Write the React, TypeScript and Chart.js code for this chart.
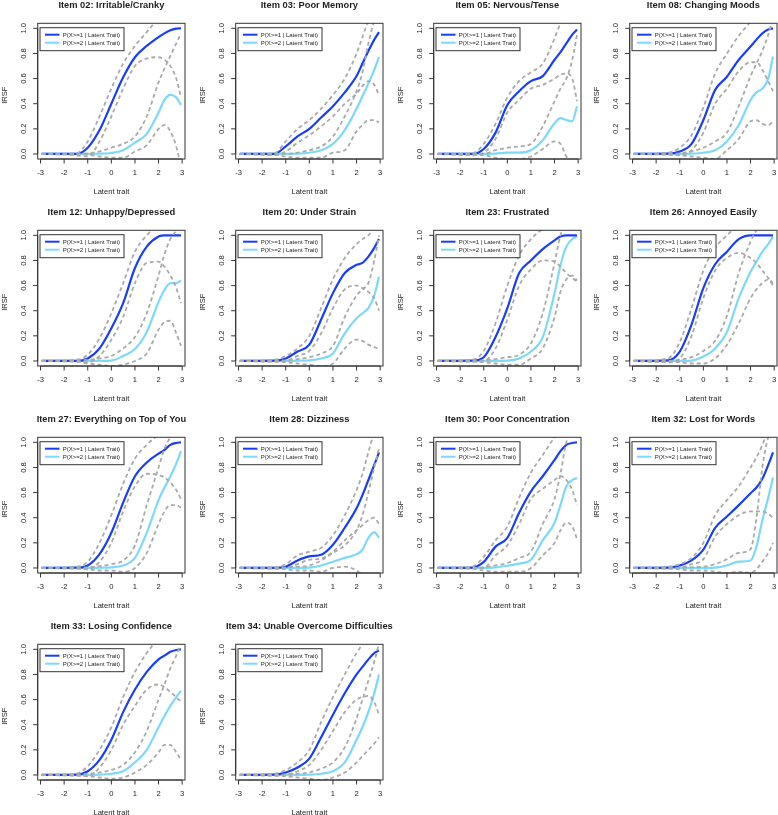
import React, { useEffect, useRef } from "react";
import { Chart, registerables } from "chart.js";

Chart.register(...registerables);

// ---------- shared axes ----------
const xGrid = [-2.95, -1.5, -1, -0.5, 0, 0.5, 1, 1.5, 2, 2.25, 2.5, 2.75, 2.95];
const xTicks = [-3, -2, -1, 0, 1, 2, 3];
const xTickLabels = ["-3", "-2", "-1", "0", "1", "2", "3"];
const yTicks = [0, 0.2, 0.4, 0.6, 0.8, 1.0];
const yTickLabels = ["0.0", "0.2", "0.4", "0.6", "0.8", "1.0"];
const legendLabels = ["P(X>=1 | Latent Trait)", "P(X>=2 | Latent Trait)"];
const xAxisTitle = "Latent trait";
const yAxisTitle = "IRSF";

// ---------- item titles ----------
const titles = [
  "Item 02: Irritable/Cranky",
  "Item 03: Poor Memory",
  "Item 05: Nervous/Tense",
  "Item 08: Changing Moods",
  "Item 12: Unhappy/Depressed",
  "Item 20: Under Strain",
  "Item 23: Frustrated",
  "Item 26: Annoyed Easily",
  "Item 27: Everything on Top of You",
  "Item 28: Dizziness",
  "Item 30: Poor Concentration",
  "Item 32: Lost for Words",
  "Item 33: Losing Confidence",
  "Item 34: Unable Overcome Difficulties",
];

// ---------- series (values at xGrid) ----------
const item02_p1 = [0, 0, 0.05, 0.19, 0.4, 0.61, 0.77, 0.86, 0.93, 0.96, 0.985, 0.997, 1.0];
const item02_p2 = [0, 0, 0, 0.002, 0.008, 0.03, 0.09, 0.16, 0.33, 0.43, 0.47, 0.45, 0.39];
const item02_p1Hi = [0, 0.005, 0.1, 0.3, 0.52, 0.72, 0.86, 0.97, 1.08, 1.12, 1.15, 1.16, 1.16];
const item02_p1Lo = [0, -0.01, -0.02, 0.1, 0.3, 0.52, 0.7, 0.76, 0.77, 0.75, 0.7, 0.6, 0.45];
const item02_p2Hi = [0, 0, 0.005, 0.02, 0.05, 0.08, 0.14, 0.3, 0.57, 0.68, 0.78, 0.88, 0.96];
const item02_p2Lo = [0, 0, -0.005, -0.02, -0.03, -0.03, 0.02, 0.07, 0.2, 0.23, 0.18, 0.06, -0.1];

const item03_p1 = [0, 0, 0.06, 0.14, 0.2, 0.29, 0.38, 0.49, 0.62, 0.72, 0.82, 0.91, 0.97];
const item03_p2 = [0, 0, 0, 0.002, 0.01, 0.03, 0.08, 0.19, 0.36, 0.46, 0.56, 0.67, 0.77];
const item03_p1Hi = [0, 0.005, 0.1, 0.2, 0.27, 0.36, 0.47, 0.6, 0.8, 0.93, 1.06, 1.12, 1.15];
const item03_p1Lo = [0, -0.01, 0.02, 0.09, 0.15, 0.22, 0.3, 0.4, 0.48, 0.54, 0.58, 0.55, 0.47];
const item03_p2Hi = [0, 0, 0, 0.01, 0.03, 0.06, 0.14, 0.3, 0.5, 0.65, 0.88, 1.06, 1.15];
const item03_p2Lo = [0, -0.005, -0.02, -0.03, -0.03, -0.03, 0.01, 0.03, 0.18, 0.23, 0.27, 0.27, 0.25];

const item05_p1 = [0, 0, 0.04, 0.17, 0.39, 0.5, 0.58, 0.62, 0.75, 0.81, 0.88, 0.95, 0.99];
const item05_p2 = [0, 0, 0, 0.003, 0.01, 0.01, 0.03, 0.11, 0.245, 0.285, 0.27, 0.26, 0.38];
const item05_p1Hi = [0, 0.005, 0.08, 0.24, 0.45, 0.58, 0.65, 0.72, 0.92, 1.04, 1.12, 1.15, 1.15];
const item05_p1Lo = [0, -0.01, 0.01, 0.12, 0.33, 0.43, 0.52, 0.55, 0.6, 0.63, 0.64, 0.6, 0.42];
const item05_p2Hi = [0, 0, 0, 0.03, 0.05, 0.06, 0.08, 0.22, 0.42, 0.52, 0.6, 0.75, 0.95];
const item05_p2Lo = [0, -0.005, -0.01, -0.03, -0.04, -0.04, -0.02, 0.04, 0.1, 0.08, -0.02, -0.1, -0.2];

const item08_p1 = [0, 0.002, 0.02, 0.08, 0.27, 0.51, 0.615, 0.75, 0.855, 0.91, 0.96, 0.99, 1.0];
const item08_p2 = [0, 0, 0, 0.002, 0.01, 0.03, 0.1, 0.23, 0.43, 0.49, 0.52, 0.6, 0.775];
const item08_p1Hi = [0, 0.01, 0.05, 0.15, 0.37, 0.64, 0.8, 0.94, 1.05, 1.1, 1.12, 1.12, 1.12];
const item08_p1Lo = [0, -0.005, -0.01, 0.03, 0.17, 0.4, 0.52, 0.66, 0.73, 0.73, 0.67, 0.58, 0.5];
const item08_p2Hi = [0, 0, 0.005, 0.02, 0.05, 0.1, 0.17, 0.38, 0.62, 0.72, 0.82, 0.95, 1.08];
const item08_p2Lo = [0, -0.005, -0.01, -0.02, -0.03, -0.04, 0.03, 0.12, 0.26, 0.27, 0.24, 0.23, 0.26];

const item12_p1 = [0, 0, 0.02, 0.1, 0.26, 0.46, 0.74, 0.91, 0.99, 1.0, 1.0, 1.0, 1.0];
const item12_p2 = [0, 0, 0, 0.001, 0.003, 0.04, 0.095, 0.23, 0.47, 0.565, 0.62, 0.62, 0.64];
const item12_p1Hi = [0, 0.01, 0.05, 0.18, 0.38, 0.62, 0.87, 1.0, 1.08, 1.1, 1.1, 1.1, 1.1];
const item12_p1Lo = [0, -0.005, -0.01, 0.04, 0.17, 0.35, 0.62, 0.78, 0.79, 0.75, 0.68, 0.58, 0.46];
const item12_p2Hi = [0, 0, 0.01, 0.02, 0.04, 0.1, 0.19, 0.38, 0.68, 0.85, 0.97, 1.04, 1.1];
const item12_p2Lo = [0, -0.005, -0.02, -0.03, -0.04, -0.03, 0.0, 0.06, 0.25, 0.31, 0.32, 0.22, 0.12];

const item20_p1 = [0, 0.002, 0.02, 0.075, 0.13, 0.33, 0.54, 0.7, 0.765, 0.78, 0.83, 0.9, 0.97];
const item20_p2 = [0, 0, 0, 0.002, 0.005, 0.02, 0.06, 0.22, 0.34, 0.38, 0.42, 0.52, 0.67];
const item20_p1Hi = [0, 0.01, 0.04, 0.1, 0.2, 0.42, 0.65, 0.82, 0.93, 0.97, 1.0, 1.06, 1.1];
const item20_p1Lo = [0, -0.005, 0, 0.04, 0.08, 0.22, 0.42, 0.57, 0.6, 0.58, 0.55, 0.5, 0.4];
const item20_p2Hi = [0, 0, 0.005, 0.015, 0.03, 0.06, 0.12, 0.35, 0.52, 0.57, 0.62, 0.8, 1.0];
const item20_p2Lo = [0, -0.005, -0.01, -0.02, -0.03, -0.04, -0.02, 0.1, 0.17, 0.16, 0.13, 0.11, 0.1];

const item23_p1 = [0, 0.002, 0.03, 0.19, 0.42, 0.7, 0.8, 0.89, 0.96, 0.99, 1.0, 1.0, 1.0];
const item23_p2 = [0, 0, 0, 0.001, 0.003, 0.02, 0.075, 0.19, 0.54, 0.76, 0.91, 0.97, 0.99];
const item23_p1Hi = [0, 0.01, 0.08, 0.3, 0.6, 0.84, 0.97, 1.05, 1.1, 1.1, 1.1, 1.1, 1.1];
const item23_p1Lo = [0, -0.005, 0, 0.1, 0.33, 0.6, 0.73, 0.8, 0.79, 0.75, 0.7, 0.66, 0.63];
const item23_p2Hi = [0, 0, 0.005, 0.015, 0.03, 0.05, 0.14, 0.38, 0.78, 1.0, 1.1, 1.12, 1.12];
const item23_p2Lo = [0, -0.005, -0.01, -0.02, -0.03, -0.03, 0.02, 0.1, 0.35, 0.55, 0.65, 0.68, 0.64];

const item26_p1 = [0, 0.005, 0.075, 0.29, 0.58, 0.77, 0.87, 0.97, 1.0, 1.0, 1.0, 1.0, 1.0];
const item26_p2 = [0, 0, 0, 0.003, 0.035, 0.1, 0.23, 0.5, 0.71, 0.79, 0.87, 0.93, 0.99];
const item26_p1Hi = [0, 0.02, 0.15, 0.42, 0.72, 0.9, 1.0, 1.08, 1.1, 1.1, 1.1, 1.1, 1.1];
const item26_p1Lo = [0, -0.01, 0.02, 0.2, 0.5, 0.72, 0.82, 0.86, 0.82, 0.78, 0.72, 0.66, 0.6];
const item26_p2Hi = [0, 0, 0.01, 0.03, 0.08, 0.16, 0.36, 0.7, 0.95, 1.04, 1.1, 1.1, 1.1];
const item26_p2Lo = [0, -0.005, -0.01, -0.02, -0.02, 0.02, 0.13, 0.3, 0.5, 0.57, 0.62, 0.65, 0.62];

const item27_p1 = [0, 0.002, 0.02, 0.11, 0.28, 0.52, 0.73, 0.84, 0.91, 0.94, 0.98, 0.995, 1.0];
const item27_p2 = [0, 0, 0, 0.002, 0.005, 0.02, 0.08, 0.28, 0.54, 0.64, 0.73, 0.83, 0.93];
const item27_p1Hi = [0, 0.01, 0.05, 0.2, 0.42, 0.67, 0.87, 0.98, 1.06, 1.1, 1.1, 1.1, 1.1];
const item27_p1Lo = [0, -0.005, -0.01, 0.05, 0.2, 0.45, 0.65, 0.75, 0.74, 0.72, 0.68, 0.62, 0.55];
const item27_p2Hi = [0, 0, 0.005, 0.015, 0.03, 0.06, 0.18, 0.5, 0.8, 0.95, 1.04, 1.1, 1.1];
const item27_p2Lo = [0, -0.005, -0.01, -0.02, -0.02, -0.03, 0, 0.12, 0.35, 0.45, 0.5, 0.5, 0.48];

const item28_p1 = [0, 0.001, 0.01, 0.06, 0.092, 0.105, 0.185, 0.32, 0.475, 0.58, 0.7, 0.82, 0.92];
const item28_p2 = [0, 0, 0, 0.001, 0.003, 0.02, 0.05, 0.08, 0.11, 0.145, 0.24, 0.285, 0.24];
const item28_p1Hi = [0, 0.005, 0.03, 0.1, 0.13, 0.16, 0.26, 0.42, 0.62, 0.75, 0.92, 1.08, 1.15];
const item28_p1Lo = [0, -0.005, 0, 0.03, 0.065, 0.075, 0.13, 0.22, 0.3, 0.34, 0.38, 0.4, 0.35];
const item28_p2Hi = [0, 0, 0.005, 0.01, 0.02, 0.06, 0.12, 0.18, 0.3, 0.42, 0.6, 0.8, 0.95];
const item28_p2Lo = [0, -0.005, -0.01, -0.02, -0.02, -0.03, 0, 0.01, -0.02, -0.06, -0.12, -0.2, -0.3];

const item30_p1 = [0, 0.003, 0.048, 0.17, 0.24, 0.44, 0.61, 0.73, 0.86, 0.93, 0.98, 0.995, 1.0];
const item30_p2 = [0, 0, 0, 0.005, 0.018, 0.035, 0.066, 0.22, 0.36, 0.5, 0.65, 0.7, 0.715];
const item30_p1Hi = [0, 0.01, 0.09, 0.22, 0.33, 0.56, 0.76, 0.9, 1.04, 1.1, 1.1, 1.1, 1.1];
const item30_p1Lo = [0, -0.005, 0, 0.1, 0.18, 0.35, 0.55, 0.63, 0.7, 0.73, 0.7, 0.62, 0.5];
const item30_p2Hi = [0, 0, 0.005, 0.02, 0.04, 0.08, 0.13, 0.35, 0.55, 0.75, 1.0, 1.1, 1.1];
const item30_p2Lo = [0, -0.005, -0.02, -0.03, -0.03, -0.03, 0, 0.1, 0.2, 0.3, 0.36, 0.33, 0.23];

const item32_p1 = [0, 0.003, 0.02, 0.06, 0.146, 0.32, 0.41, 0.5, 0.595, 0.64, 0.71, 0.82, 0.92];
const item32_p2 = [0, 0, 0, 0, 0.001, 0.003, 0.02, 0.05, 0.06, 0.17, 0.38, 0.56, 0.72];
const item32_p1Hi = [0, 0.01, 0.03, 0.08, 0.2, 0.42, 0.54, 0.65, 0.8, 0.88, 0.98, 1.1, 1.15];
const item32_p1Lo = [0, -0.005, 0, 0.03, 0.07, 0.25, 0.35, 0.42, 0.45, 0.45, 0.45, 0.43, 0.4];
const item32_p2Hi = [0, 0, 0.002, 0.005, 0.01, 0.03, 0.07, 0.12, 0.15, 0.4, 0.8, 1.04, 1.1];
const item32_p2Lo = [0, -0.005, -0.01, -0.02, -0.02, -0.03, -0.04, -0.03, -0.04, -0.01, 0.05, 0.12, 0.2];

const item33_p1 = [0, 0.003, 0.03, 0.12, 0.28, 0.5, 0.68, 0.82, 0.92, 0.95, 0.98, 0.995, 1.0];
const item33_p2 = [0, 0, 0, 0.002, 0.01, 0.03, 0.1, 0.2, 0.38, 0.47, 0.55, 0.62, 0.67];
const item33_p1Hi = [0, 0.01, 0.07, 0.2, 0.38, 0.62, 0.82, 0.97, 1.08, 1.1, 1.1, 1.1, 1.1];
const item33_p1Lo = [0, -0.005, -0.01, 0.06, 0.2, 0.4, 0.55, 0.68, 0.72, 0.7, 0.66, 0.62, 0.58];
const item33_p2Hi = [0, 0, 0.01, 0.02, 0.04, 0.08, 0.18, 0.35, 0.6, 0.72, 0.85, 0.95, 1.05];
const item33_p2Lo = [0, -0.005, -0.01, -0.02, -0.03, -0.02, 0.02, 0.08, 0.18, 0.24, 0.24, 0.18, 0.12];

const item34_p1 = [0, 0.002, 0.02, 0.06, 0.13, 0.3, 0.48, 0.65, 0.8, 0.86, 0.92, 0.97, 0.99];
const item34_p2 = [0, 0, 0, 0, 0.002, 0.01, 0.03, 0.1, 0.28, 0.38, 0.5, 0.65, 0.8];
const item34_p1Hi = [0, 0.01, 0.04, 0.1, 0.2, 0.42, 0.62, 0.8, 0.97, 1.04, 1.1, 1.12, 1.12];
const item34_p1Lo = [0, -0.005, 0, 0.03, 0.08, 0.2, 0.35, 0.5, 0.6, 0.62, 0.63, 0.58, 0.48];
const item34_p2Hi = [0, 0, 0.005, 0.01, 0.02, 0.05, 0.1, 0.22, 0.45, 0.6, 0.75, 0.9, 1.05];
const item34_p2Lo = [0, -0.005, -0.01, -0.02, -0.03, -0.04, -0.02, 0.02, 0.1, 0.15, 0.2, 0.25, 0.3];

const panels = [
  [item02_p1, item02_p2, item02_p1Hi, item02_p1Lo, item02_p2Hi, item02_p2Lo],
  [item03_p1, item03_p2, item03_p1Hi, item03_p1Lo, item03_p2Hi, item03_p2Lo],
  [item05_p1, item05_p2, item05_p1Hi, item05_p1Lo, item05_p2Hi, item05_p2Lo],
  [item08_p1, item08_p2, item08_p1Hi, item08_p1Lo, item08_p2Hi, item08_p2Lo],
  [item12_p1, item12_p2, item12_p1Hi, item12_p1Lo, item12_p2Hi, item12_p2Lo],
  [item20_p1, item20_p2, item20_p1Hi, item20_p1Lo, item20_p2Hi, item20_p2Lo],
  [item23_p1, item23_p2, item23_p1Hi, item23_p1Lo, item23_p2Hi, item23_p2Lo],
  [item26_p1, item26_p2, item26_p1Hi, item26_p1Lo, item26_p2Hi, item26_p2Lo],
  [item27_p1, item27_p2, item27_p1Hi, item27_p1Lo, item27_p2Hi, item27_p2Lo],
  [item28_p1, item28_p2, item28_p1Hi, item28_p1Lo, item28_p2Hi, item28_p2Lo],
  [item30_p1, item30_p2, item30_p1Hi, item30_p1Lo, item30_p2Hi, item30_p2Lo],
  [item32_p1, item32_p2, item32_p1Hi, item32_p1Lo, item32_p2Hi, item32_p2Lo],
  [item33_p1, item33_p2, item33_p1Hi, item33_p1Lo, item33_p2Hi, item33_p2Lo],
  [item34_p1, item34_p2, item34_p1Hi, item34_p1Lo, item34_p2Hi, item34_p2Lo],
];

// ---------- style ----------
const BLUE = "#1a3ef5";
const LIGHT = "#7dd8fa";
const GREY = "#aaaaaa";
const INK = "#1e1e1e";
const FONT = '"Liberation Sans", Arial, Helvetica, sans-serif';

const PANEL_W = 197;
const PANEL_H = 207;
const colOffsets = [0, 198, 395.5, 591.5];
const rowOffsets = [0, 207, 414, 621];

const rStylePlugin = {
  id: "rStyle",
  afterDraw(chart: any, _args: any, opts: any) {
    const { ctx, chartArea: a, scales } = chart;
    const xs = scales.x;
    const ys = scales.y;
    ctx.save();
    // box
    ctx.strokeStyle = "#333";
    ctx.lineWidth = 1;
    ctx.setLineDash([]);
    ctx.strokeRect(a.left, a.top, a.right - a.left, a.bottom - a.top);

    // x axis
    const tl = 4.5;
    ctx.beginPath();
    ctx.moveTo(xs.getPixelForValue(xTicks[0]), a.bottom);
    ctx.lineTo(xs.getPixelForValue(xTicks[xTicks.length - 1]), a.bottom);
    xTicks.forEach((v) => {
      const px = xs.getPixelForValue(v);
      ctx.moveTo(px, a.bottom);
      ctx.lineTo(px, a.bottom + tl);
    });
    // y axis
    ctx.moveTo(a.left, ys.getPixelForValue(yTicks[0]));
    ctx.lineTo(a.left, ys.getPixelForValue(yTicks[yTicks.length - 1]));
    yTicks.forEach((v) => {
      const py = ys.getPixelForValue(v);
      ctx.moveTo(a.left, py);
      ctx.lineTo(a.left - tl, py);
    });
    ctx.stroke();

    ctx.fillStyle = INK;
    ctx.font = `7.6px ${FONT}`;
    ctx.textAlign = "center";
    ctx.textBaseline = "middle";
    xTicks.forEach((v, i) => {
      ctx.fillText(xTickLabels[i], xs.getPixelForValue(v), a.bottom + 14);
    });
    yTicks.forEach((v, i) => {
      ctx.save();
      ctx.translate(a.left - 14.2, ys.getPixelForValue(v));
      ctx.rotate(-Math.PI / 2);
      ctx.fillText(yTickLabels[i], 0, 0);
      ctx.restore();
    });
    // axis titles
    const cx = (a.left + a.right) / 2;
    ctx.fillText(xAxisTitle, cx, a.bottom + 33);
    ctx.save();
    ctx.translate(5.2, (a.top + a.bottom) / 2 + 4);
    ctx.rotate(-Math.PI / 2);
    ctx.fillText(yAxisTitle, 0, 0);
    ctx.restore();

    // main title
    ctx.font = `bold 9.3px ${FONT}`;
    ctx.fillText(opts.title, cx, 5.5);

    // legend
    const lx = a.left + 2.3;
    const ly = a.top + 4.4;
    const lw = 84;
    const lh = 23;
    ctx.fillStyle = "#ffffff";
    ctx.fillRect(lx, ly, lw, lh);
    ctx.strokeStyle = "#333";
    ctx.lineWidth = 1;
    ctx.strokeRect(lx, ly, lw, lh);
    const cols = [BLUE, LIGHT];
    ctx.font = `6px ${FONT}`;
    ctx.textAlign = "left";
    legendLabels.forEach((lab, i) => {
      const yy = ly + 7 + i * 8;
      ctx.strokeStyle = cols[i];
      ctx.lineWidth = 2;
      ctx.beginPath();
      ctx.moveTo(lx + 5, yy);
      ctx.lineTo(lx + 19.5, yy);
      ctx.stroke();
      ctx.fillStyle = INK;
      ctx.fillText(lab, lx + 22.7, yy + 0.3);
    });
    ctx.restore();
  },
};

function toPoints(arr: number[]) {
  return xGrid.map((x, i) => ({ x, y: arr[i] }));
}

function Panel({ idx }: { idx: number }) {
  const ref = useRef<HTMLCanvasElement | null>(null);
  useEffect(() => {
    if (!ref.current) return;
    const [p1, p2, p1Hi, p1Lo, p2Hi, p2Lo] = panels[idx];
    const dashed = (arr: number[]) => ({
      data: toPoints(arr),
      borderColor: GREY,
      borderWidth: 1.8,
      borderDash: [4, 3],
      pointRadius: 0,
      fill: false,
      cubicInterpolationMode: "monotone" as const,
    });
    const solid = (arr: number[], color: string) => ({
      data: toPoints(arr),
      borderColor: color,
      borderWidth: 2.2,
      pointRadius: 0,
      fill: false,
      cubicInterpolationMode: "monotone" as const,
    });
    const chart = new Chart(ref.current, {
      type: "line",
      data: {
        datasets: [
          dashed(p1Hi),
          dashed(p1Lo),
          dashed(p2Hi),
          dashed(p2Lo),
          solid(p1, BLUE),
          solid(p2, LIGHT),
        ],
      },
      options: {
        animation: false,
        responsive: false,
        events: [],
        layout: { padding: { left: 37.7, right: 12, top: 23.3, bottom: 48 } },
        scales: {
          x: { type: "linear", min: -3.12, max: 3.12, display: false },
          y: { type: "linear", min: -0.04, max: 1.04, display: false },
        },
        plugins: {
          legend: { display: false },
          tooltip: { enabled: false },
          title: { display: false },
          rStyle: { title: titles[idx] },
        } as any,
      },
      plugins: [rStylePlugin],
    });
    return () => chart.destroy();
  }, [idx]);
  const col = idx % 4;
  const row = Math.floor(idx / 4);
  return (
    <canvas
      ref={ref}
      width={PANEL_W}
      height={PANEL_H}
      style={{
        position: "absolute",
        left: colOffsets[col],
        top: rowOffsets[row],
        width: PANEL_W,
        height: PANEL_H,
      }}
    />
  );
}

export default function App() {
  return (
    <div
      style={{
        position: "absolute",
        left: 0,
        top: 0,
        width: 778,
        height: 815,
        overflow: "hidden",
        background: "#ffffff",
      }}
    >
      {panels.map((_, i) => (
        <Panel key={i} idx={i} />
      ))}
    </div>
  );
}
